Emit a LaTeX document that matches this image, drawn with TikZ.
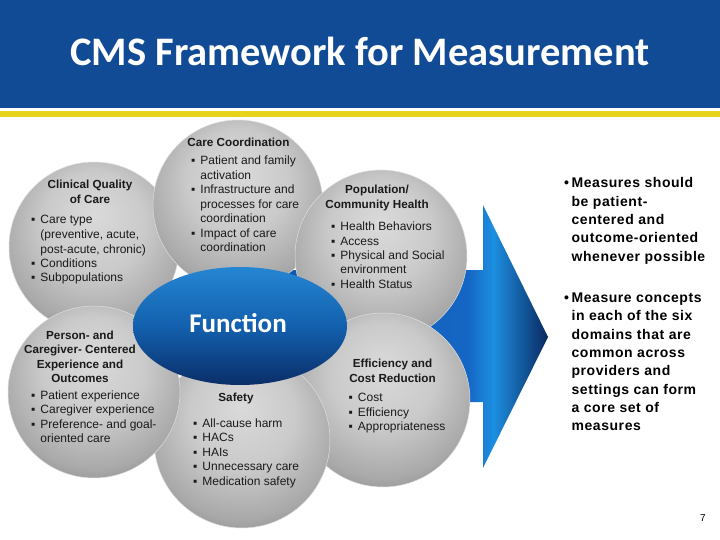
\documentclass[tikz,border=0pt]{standalone}
\usepackage{fontspec}
\setmainfont{Liberation Sans}
\newfontfamily\titlefont{Carlito}
\newfontfamily\notefont[LetterSpace=4]{Liberation Sans}
\definecolor{cmsblue}{HTML}{114B95}
\definecolor{cmsyellow}{HTML}{E6D31A}
\definecolor{textgray}{HTML}{1A1A1A}
\definecolor{balla}{HTML}{DADADA}
\definecolor{ballb}{HTML}{CACACA}
\definecolor{ballc}{HTML}{A9A9A9}
\definecolor{balld}{HTML}{828282}
\definecolor{arrowa}{HTML}{0E56AE}
\definecolor{arrowb}{HTML}{1566C4}
\definecolor{arrowc}{HTML}{1D8FE0}
\definecolor{arrowd}{HTML}{0A2860}
\definecolor{fundark}{HTML}{0A2E68}
\definecolor{funmid}{HTML}{1360AE}
\definecolor{funlight}{HTML}{2586D2}
\pgfdeclareradialshading{domainball}{\pgfpoint{0bp}{10bp}}{color(0bp)=(balla); color(15bp)=(ballb); color(27bp)=(ballc); color(35bp)=(balld); color(50bp)=(balld)}
\pgfdeclarehorizontalshading{arrowshade}{100bp}{color(0bp)=(arrowa); color(25bp)=(arrowa); color(61bp)=(arrowb); color(65.5bp)=(arrowc); color(75bp)=(arrowd); color(100bp)=(arrowd)}
\pgfdeclareverticalshading{functionshade}{100bp}{color(0bp)=(fundark); color(25bp)=(fundark); color(50bp)=(funmid); color(75bp)=(funlight); color(100bp)=(funlight)}

\begin{document}
\begin{tikzpicture}[x=1pt, y=-1pt,
  domaincircle/.style={shading=domainball, draw=gray!25, line width=0.5pt},
  heading/.style={anchor=base, inner sep=0, text=textgray, font=\bfseries\fontsize{11.7}{14.5}\selectfont},
  listtext/.style={anchor=base west, inner sep=0, text=textgray, font=\fontsize{12}{14.5}\selectfont},
  notetext/.style={anchor=base west, inner sep=0, text=black, font=\notefont\bfseries\fontsize{14}{18.3}\selectfont}]
\useasboundingbox (0,0) rectangle (720,540);
\fill[white] (0,0) rectangle (720,540);
% title band
\fill[cmsblue] (0,0) rectangle (720,108);
\fill[cmsyellow] (0,111) rectangle (720,117);
\node[anchor=base, inner sep=0, text=white, font=\titlefont\bfseries\fontsize{40.5}{44}\selectfont] (title) at (360,66) {CMS Framework for Measurement};
% arrow behind the domains
\shade[shading=arrowshade] (260,270) -- (483,270) -- (483,205) -- (548,337) -- (483,468) -- (483,402) -- (260,402) -- cycle;
% six domains
\shade[domaincircle] (94,247) circle (85);
\shade[domaincircle] (238,205) circle (85);
\shade[domaincircle] (381,256) circle (86);
\shade[domaincircle] (383,400) circle (87);
\shade[domaincircle] (242,440) circle (88);
\shade[domaincircle] (94,392) circle (86);
\shade[shading=functionshade] (240,326) ellipse [x radius=107, y radius=59];
\node[anchor=base, inner sep=0, text=white, font=\titlefont\bfseries\fontsize{27}{30}\selectfont] (function) at (238,332) {Function};

\node[heading] (clinhead) at (90,189) {\begin{tabular}[t]{@{}c@{}}Clinical Quality\\of Care\end{tabular}};
\node[listtext] (clinlist) at (31,224) {\begin{tabular}[t]{@{}l@{\hspace{5pt}}l@{}}
▪ & Care type\\
  & (preventive, acute,\\
  & post-acute, chronic)\\
▪ & Conditions\\
▪ & Subpopulations
\end{tabular}};

\node[heading] (carehead) at (238.5,147) {Care Coordination};
\node[listtext] (carelist) at (191,165) {\begin{tabular}[t]{@{}l@{\hspace{5pt}}l@{}}
▪ & Patient and family\\
  & activation\\
▪ & Infrastructure and\\
  & processes for care\\
  & coordination\\
▪ & Impact of care\\
  & coordination
\end{tabular}};

\node[heading] (pophead) at (377,194) {\begin{tabular}[t]{@{}c@{}}Population/\\Community Health\end{tabular}};
\node[listtext] (poplist) at (331,230.5) {\begin{tabular}[t]{@{}l@{\hspace{5pt}}l@{}}
▪ & Health Behaviors\\
▪ & Access\\
▪ & Physical and Social\\
  & environment\\
▪ & Health Status
\end{tabular}};

\node[heading] (personhead) at (80,339) {\begin{tabular}[t]{@{}c@{}}Person- and\\Caregiver- Centered\\Experience and\\Outcomes\end{tabular}};
\node[listtext] (personlist) at (31,399) {\begin{tabular}[t]{@{}l@{\hspace{5pt}}l@{}}
▪ & Patient experience\\
▪ & Caregiver experience\\
▪ & Preference- and goal-\\
  & oriented care
\end{tabular}};

\node[heading] (safehead) at (236,401.5) {Safety};
\node[listtext] (safelist) at (193,427) {\begin{tabular}[t]{@{}l@{\hspace{5pt}}l@{}}
▪ & All-cause harm\\
▪ & HACs\\
▪ & HAIs\\
▪ & Unnecessary care\\
▪ & Medication safety
\end{tabular}};

\node[heading] (effhead) at (392.5,367.5) {\begin{tabular}[t]{@{}c@{}}Efficiency and\\Cost Reduction\end{tabular}};
\node[listtext] (efflist) at (348.5,401.5) {\begin{tabular}[t]{@{}l@{\hspace{5pt}}l@{}}
▪ & Cost\\
▪ & Efficiency\\
▪ & Appropriateness
\end{tabular}};

% notes on the right
\node[notetext] (notea) at (564,188) {\begin{tabular}[t]{@{}l@{\hspace{2.5pt}}l@{}}
• & Measures should\\
  & be patient-\\
  & centered and\\
  & outcome-oriented\\
  & whenever possible
\end{tabular}};
\node[notetext] (noteb) at (564,302.5) {\begin{tabular}[t]{@{}l@{\hspace{2.5pt}}l@{}}
• & Measure concepts\\
  & in each of the six\\
  & domains that are\\
  & common across\\
  & providers and\\
  & settings can form\\
  & a core set of\\
  & measures
\end{tabular}};
\node[anchor=base, inner sep=0, font=\fontsize{10}{12}\selectfont] (pagenum) at (703,521) {7};
\end{tikzpicture}
\end{document}
